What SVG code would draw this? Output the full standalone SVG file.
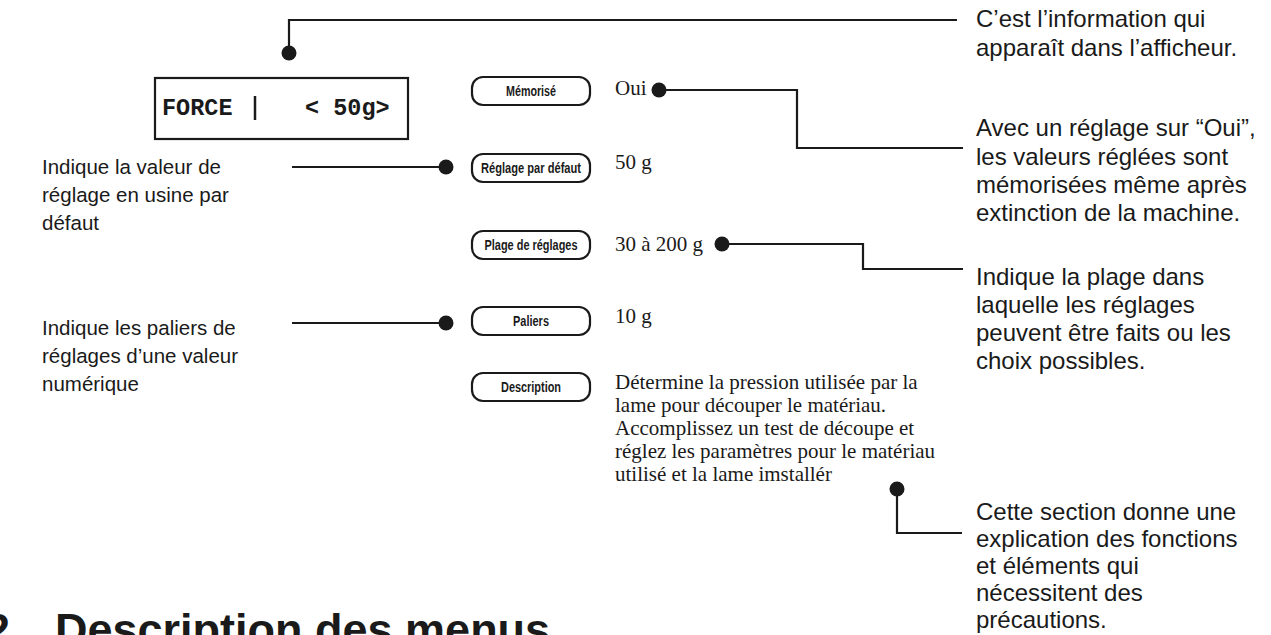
<svg xmlns="http://www.w3.org/2000/svg" width="1271" height="635" viewBox="0 0 1271 635">
<style>
.ln{fill:none;stroke:#1a1a1a;stroke-width:2.2}
.dot{fill:#1a1a1a}
.pill{fill:#fff;stroke:#1a1a1a;stroke-width:2.2}
.pl{font-family:"Liberation Sans",Arial,sans-serif;font-weight:bold;font-size:14px;fill:#1a1a1a;text-anchor:middle}
.val{font-family:"Liberation Serif","Times New Roman",serif;font-size:21px;fill:#1a1a1a}
.note{font-family:"Liberation Sans",Arial,sans-serif;font-size:24px;fill:#1a1a1a}
.noteL{font-family:"Liberation Sans",Arial,sans-serif;font-size:20.5px;fill:#1a1a1a}
.mono{font-family:"Liberation Mono","Courier New",monospace;font-weight:bold;font-size:23.5px;fill:#1a1a1a}
.title{font-family:"Liberation Sans",Arial,sans-serif;font-weight:bold;font-size:45px;fill:#1a1a1a}
</style>
<rect width="1271" height="635" fill="#fff"/>

<g id="display">
<rect x="155" y="78" width="253" height="61" fill="#fff" stroke="#1a1a1a" stroke-width="2.2"/>
<text class="mono" x="162" y="115">FORCE</text>
<line x1="255" y1="96" x2="255" y2="120" stroke="#1a1a1a" stroke-width="2.5"/>
<text class="mono" x="305" y="115">&lt; 50g&gt;</text>
</g>

<g id="memorise">
<rect class="pill" x="472" y="77" width="118" height="28" rx="11"/>
<text class="pl" x="531" y="96" textLength="50" lengthAdjust="spacingAndGlyphs">Mémorisé</text>
<text class="val" x="615" y="95">Oui</text>
</g>
<g id="defaut">
<rect class="pill" x="472" y="154" width="118" height="28" rx="11"/>
<text class="pl" x="531" y="173" textLength="100" lengthAdjust="spacingAndGlyphs">Réglage par défaut</text>
<text class="val" x="615" y="169">50 g</text>
</g>
<g id="plage">
<rect class="pill" x="472" y="231" width="118" height="28" rx="11"/>
<text class="pl" x="531" y="250" textLength="93" lengthAdjust="spacingAndGlyphs">Plage de réglages</text>
<text class="val" x="615" y="251">30 à 200 g</text>
</g>
<g id="paliers">
<rect class="pill" x="472" y="307" width="118" height="28" rx="11"/>
<text class="pl" x="531" y="326" textLength="36" lengthAdjust="spacingAndGlyphs">Paliers</text>
<text class="val" x="615" y="323">10 g</text>
</g>
<g id="description">
<rect class="pill" x="472" y="373" width="118" height="28" rx="11"/>
<text class="pl" x="531" y="392" textLength="60" lengthAdjust="spacingAndGlyphs">Description</text>
<text class="val" x="615" y="389">Détermine la pression utilisée par la</text>
<text class="val" x="615" y="412">lame pour découper le matériau.</text>
<text class="val" x="615" y="435">Accomplissez un test de découpe et</text>
<text class="val" x="615" y="458">réglez les paramètres pour le matériau</text>
<text class="val" x="615" y="481">utilisé et la lame imstallér</text>
</g>

<g id="note-afficheur">
<text class="note" x="976" y="27">C’est l’information qui</text>
<text class="note" x="976" y="56">apparaît dans l’afficheur.</text>
</g>
<g id="note-oui">
<text class="note" x="976" y="136">Avec un réglage sur “Oui”,</text>
<text class="note" x="976" y="165">les valeurs réglées sont</text>
<text class="note" x="976" y="193">mémorisées même après</text>
<text class="note" x="976" y="221">extinction de la machine.</text>
</g>
<g id="note-plage">
<text class="note" x="976" y="285">Indique la plage dans</text>
<text class="note" x="976" y="313">laquelle les réglages</text>
<text class="note" x="976" y="341">peuvent être faits ou les</text>
<text class="note" x="976" y="369">choix possibles.</text>
</g>
<g id="note-section">
<text class="note" x="976" y="520">Cette section donne une</text>
<text class="note" x="976" y="547">explication des fonctions</text>
<text class="note" x="976" y="574">et éléments qui</text>
<text class="note" x="976" y="601">nécessitent des</text>
<text class="note" x="976" y="628">précautions.</text>
</g>
<g id="note-defaut">
<text class="noteL" x="42" y="174">Indique la valeur de</text>
<text class="noteL" x="42" y="202">réglage en usine par</text>
<text class="noteL" x="42" y="230">défaut</text>
</g>
<g id="note-paliers">
<text class="noteL" x="42" y="335">Indique les paliers de</text>
<text class="noteL" x="42" y="363">réglages d’une valeur</text>
<text class="noteL" x="42" y="391">numérique</text>
</g>

<g id="connectors">
<polyline class="ln" points="289,53 289,20 957,20"/>
<circle class="dot" cx="289" cy="53" r="7.5"/>
<polyline class="ln" points="659,90 797,90 797,148 963,148"/>
<circle class="dot" cx="659" cy="90" r="7.5"/>
<polyline class="ln" points="722,244 863,244 863,269 963,269"/>
<circle class="dot" cx="722" cy="244" r="7.5"/>
<polyline class="ln" points="897,489 897,533 962,533"/>
<circle class="dot" cx="897" cy="489" r="7.5"/>
<line class="ln" x1="292" y1="167" x2="446" y2="167"/>
<circle class="dot" cx="446" cy="167" r="7.5"/>
<line class="ln" x1="292" y1="323" x2="446" y2="323"/>
<circle class="dot" cx="446" cy="323" r="7.5"/>
</g>

<g id="heading">
<text class="title" x="-15" y="645">2</text>
<text class="title" x="55" y="645">Description des menus</text>
</g>
</svg>
